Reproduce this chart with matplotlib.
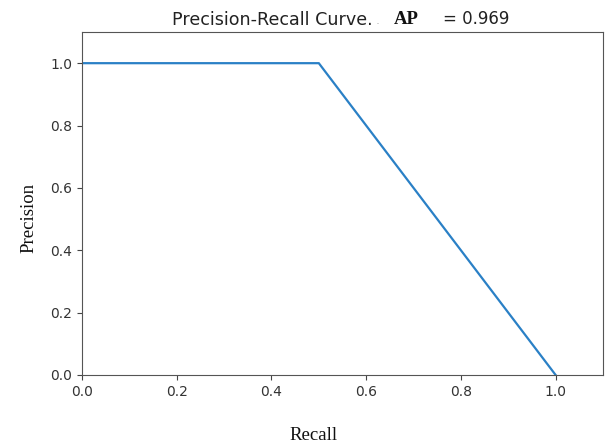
import matplotlib
matplotlib.use("Agg")
import matplotlib.pyplot as plt

recall = [0.0, 0.5, 1.0]
precision = [1.0, 1.0, 0.0]
ap_value = 0.969
xticks = [0.0, 0.2, 0.4, 0.6, 0.8, 1.0]
yticks = [0.0, 0.2, 0.4, 0.6, 0.8, 1.0]

W, H = 607, 445
fig = plt.figure(figsize=(W / 100, H / 100), dpi=100)
ax = fig.add_axes([82/W, 1 - 375/H, (603-82)/W, (375-32)/H])
ax.plot(recall, precision, color='#2a80c6', linewidth=1.6)
ax.set_xlim(0, 1.1)
ax.set_ylim(0, 1.1)
ax.set_xticks(xticks)
ax.set_yticks(yticks)
ax.set_xticklabels([f"{t:.1f}" for t in xticks])
ax.set_yticklabels([f"{t:.1f}" for t in yticks])
ax.tick_params(labelsize=10, colors='#444444', labelcolor='#333333')
for s in ax.spines.values():
    s.set_color('#555555')

def px(x, y):
    return x / W, 1 - y / H

# title pieces
fig.text(*px(172, 25), "Precision-Recall Curve.", fontsize=12.6, color='#222222',
         ha='left', va='baseline')
fig.text(*px(376, 24), ".", fontsize=9, color='#bbbbbb', ha='left', va='baseline')
fig.text(*px(394, 23.5), "AP", fontsize=13.5, fontweight='bold', family='Liberation Serif',
         color='#111111', ha='left', va='baseline')
fig.text(*px(443, 24.5), f"= {ap_value:.3f}", fontsize=12, color='#222222',
         ha='left', va='baseline')

# axis labels
fig.text(*px(314, 440), "Recall", family='Liberation Serif', fontsize=13.5,
         ha='center', va='baseline', color='#111111')
fig.text(*px(33, 218), "Precision", family='Liberation Serif', fontsize=13.5,
         ha='center', va='baseline', rotation=90, rotation_mode='anchor', color='#111111')

fig.savefig("out.png", dpi=100)
